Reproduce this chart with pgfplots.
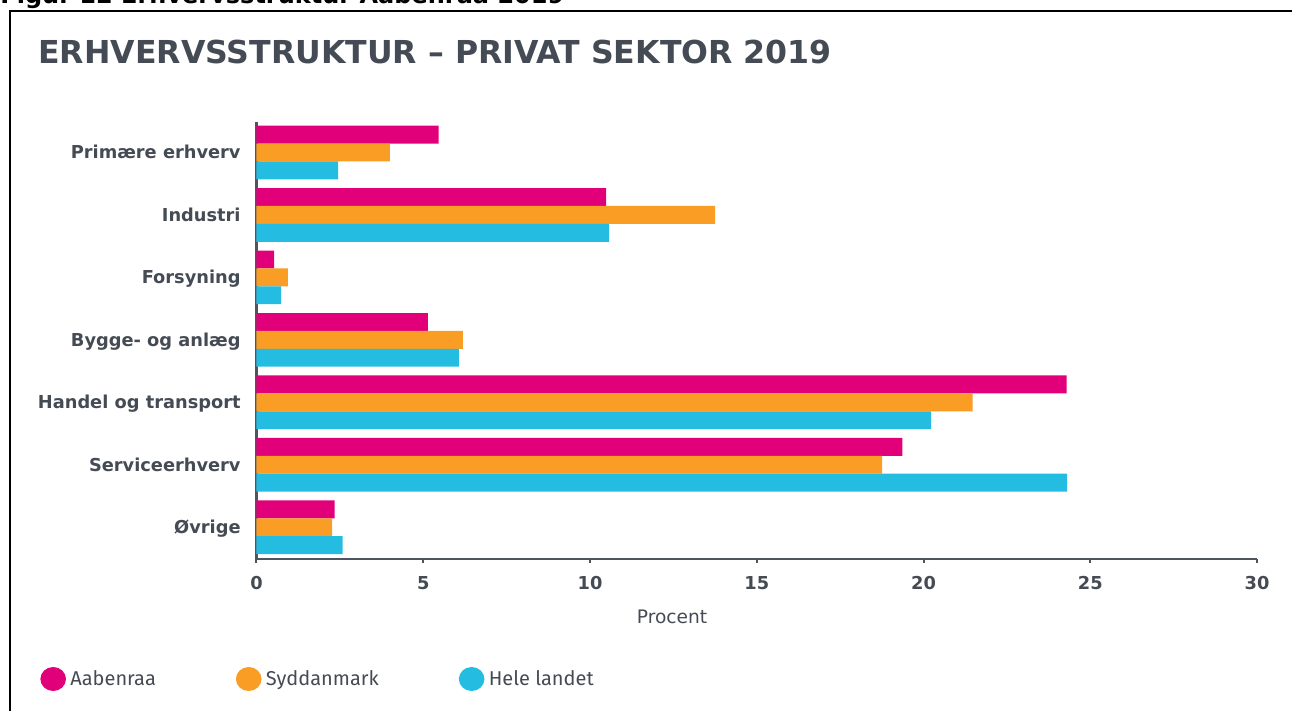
\documentclass[border=0pt]{standalone}
\usepackage{pgfplots}
\pgfplotsset{compat=1.18}
\usepackage{fontspec}
\setmainfont{Fira Sans}
\newfontfamily\dv{DejaVu Sans}
\newfontfamily\fira{Fira Sans}
\definecolor{cA}{HTML}{E2007A}
\definecolor{cS}{HTML}{F99D25}
\definecolor{cH}{HTML}{25BCE2}
\definecolor{txt}{HTML}{454B54}
\definecolor{ax}{HTML}{4F555E}
\pgfplotsset{mybar/.style={xbar, bar width=0.2866, draw=none,
  legend image code/.code={\fill[##1] (6.2pt,0pt) circle[x radius=6.4pt, y radius=6pt];}}}
\begin{document}
\begin{tikzpicture}
\useasboundingbox (0,0) rectangle (646pt,-355.5pt);
\draw[line width=0.9pt] (5pt,-400pt) -- (5pt,-5.5pt) -- (700pt,-5.5pt);
\node[anchor=base west, inner sep=0, font=\dv\bfseries\fontsize{12}{14}\selectfont] at (0pt,-1.8pt) {Figur 12 Erhvervsstruktur Aabenraa 2019};
\node[anchor=base west, inner sep=0, text=txt, font=\dv\bfseries\fontsize{15.8}{18}\selectfont] at (19pt,-31.8pt) {ERHVERVSSTRUKTUR – PRIVAT SEKTOR 2019};
\begin{axis}[
  at={(128.25pt,-279.5pt)}, anchor=south west,
  width=500.25pt, height=218.5pt, scale only axis,
  xmin=0, xmax=30, ymin=-0.488, ymax=6.509, y dir=reverse,
  axis x line*=bottom, axis y line*=left,
  axis line style={ax, line width=1.2pt},
  xtick={0,5,...,30}, ytick={0,...,6},
  yticklabels={Primære erhverv, Industri, Forsyning, Bygge- og anlæg, Handel og transport, Serviceerhverv, Øvrige},
  y tick style={draw=none}, x tick style={ax, line width=1pt},
  tick align=outside, major tick length=2pt,
  /pgf/number format/assume math mode=true,
  xticklabel style={font=\dv\bfseries\fontsize{8.9}{10}\selectfont, text=txt, anchor=base, inner sep=0pt, yshift=-13pt},
  yticklabel style={font=\dv\bfseries\fontsize{8.9}{10}\selectfont, text=txt, anchor=base east, inner sep=0pt, xshift=-5.75pt, yshift=-3.25pt},
  legend columns=3,
  legend style={at={(-0.2164,-0.2746)}, anchor=west, draw=none, fill=none, inner sep=0pt,
    font=\fira\fontsize{10}{12}\selectfont, text=txt,
    nodes={inner sep=0pt},
    /tikz/every odd column/.append style={column sep=2.2pt},
    /tikz/every even column/.append style={column sep=40pt}},
]
\addplot[mybar, bar shift=-0.2866, fill=cA] coordinates {(5.46,0) (10.48,1) (0.53,2) (5.14,3) (24.29,4) (19.37,5) (2.34,6)};
\addplot[mybar, bar shift=0, fill=cS] coordinates {(4.00,0) (13.75,1) (0.94,2) (6.19,3) (21.47,4) (18.76,5) (2.27,6)};
\addplot[mybar, bar shift=0.2866, fill=cH] coordinates {(2.45,0) (10.57,1) (0.74,2) (6.07,3) (20.23,4) (24.31,5) (2.58,6)};
\legend{Aabenraa, Syddanmark, Hele landet}
\end{axis}
\node[anchor=base, inner sep=0, text=txt, font=\dv\fontsize{9.3}{11}\selectfont] at (336pt,-311.5pt) {Procent};
\end{tikzpicture}
\end{document}
